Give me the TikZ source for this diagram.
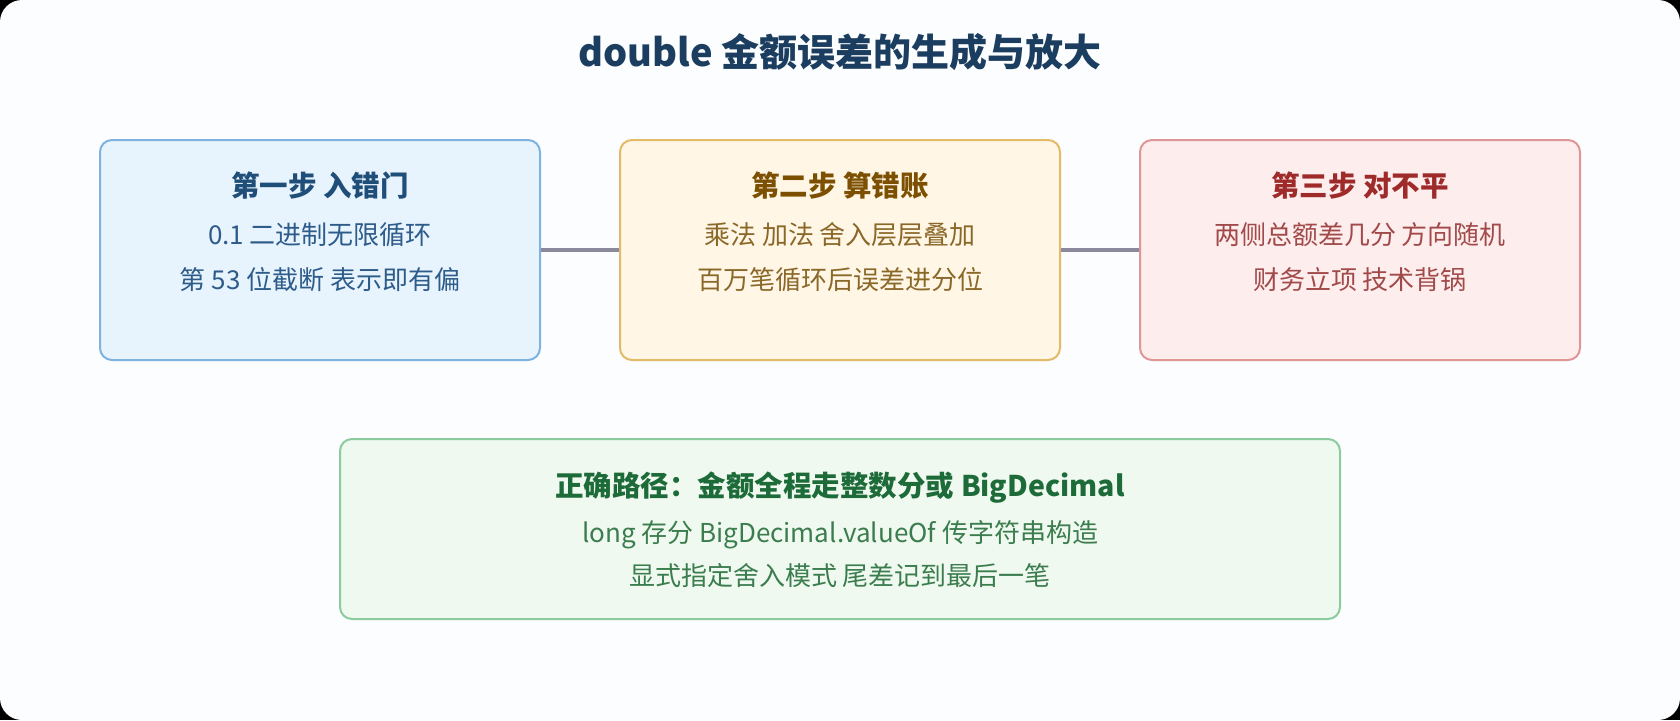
\documentclass[tikz,border=0pt]{standalone}
\usepackage{fontspec}
\setmainfont{Noto Sans CJK SC}
\definecolor{bgc}{HTML}{FCFDFE}
\definecolor{mainc}{HTML}{1B3D5F}
\definecolor{linkc}{HTML}{8A8A9C}
\definecolor{bAfill}{HTML}{E8F4FD}
\definecolor{bAdraw}{HTML}{7FB3DF}
\definecolor{bAttl}{HTML}{1F4E79}
\definecolor{bAtxt}{HTML}{2E5C8A}
\definecolor{bBfill}{HTML}{FFF6E6}
\definecolor{bBdraw}{HTML}{E3BA68}
\definecolor{bBttl}{HTML}{7C5000}
\definecolor{bBtxt}{HTML}{8A6828}
\definecolor{bCfill}{HTML}{FDEDED}
\definecolor{bCdraw}{HTML}{E09596}
\definecolor{bCttl}{HTML}{9E2A2A}
\definecolor{bCtxt}{HTML}{A24A4A}
\definecolor{bDfill}{HTML}{EFF9EF}
\definecolor{bDdraw}{HTML}{8BCB9D}
\definecolor{bDttl}{HTML}{1E6B3A}
\definecolor{bDtxt}{HTML}{3B7D4E}
\begin{document}
\begin{tikzpicture}[x=1pt,y=-1pt,
  stepbox/.style={draw, line width=2pt, rounded corners=12pt, minimum width=440pt, minimum height=220pt, inner sep=0pt},
  ttl/.style={font=\fontsize{28.5}{34}\selectfont\bfseries, text height=0.83em, text depth=0.07em, inner sep=0pt},
  bodytxt/.style={font=\fontsize{26}{32}\selectfont, text height=0.83em, text depth=0.07em, inner sep=0pt},
  link/.style={draw=linkc, line width=3.5pt}]
\fill[black] (0,0) rectangle (1680,720);
\fill[bgc, rounded corners=22pt] (0,0) rectangle (1680,720);
\useasboundingbox (0,0) rectangle (1680,720);

\node[font=\fontsize{38}{44}\selectfont\bfseries, text=mainc, text height=0.83em, text depth=0.07em, inner sep=0pt] (title) at (840,63) {double 金额误差的生成与放大};

\node[stepbox, fill=bAfill, draw=bAdraw] (b1) at (320,250) {};
\node[stepbox, fill=bBfill, draw=bBdraw] (b2) at (840,250) {};
\node[stepbox, fill=bCfill, draw=bCdraw] (b3) at (1360,250) {};
\node[stepbox, fill=bDfill, draw=bDdraw, minimum width=1000pt, minimum height=180pt] (b4) at (840,529) {};

\draw[link] (b1.east) -- (b2.west);
\draw[link] (b2.east) -- (b3.west);

\node[ttl, text=bAttl] (t1) at (320,193) {第一步 入错门};
\node[bodytxt, text=bAtxt] (t1a) at (320,240.5) {0.1 二进制无限循环};
\node[bodytxt, text=bAtxt] (t1b) at (320,285.5) {第 53 位截断 表示即有偏};

\node[ttl, text=bBttl] (t2) at (840,193) {第二步 算错账};
\node[bodytxt, text=bBtxt] (t2a) at (840,240.5) {乘法 加法 舍入层层叠加};
\node[bodytxt, text=bBtxt] (t2b) at (840,285.5) {百万笔循环后误差进分位};

\node[ttl, text=bCttl] (t3) at (1360,193) {第三步 对不平};
\node[bodytxt, text=bCtxt] (t3a) at (1360,240.5) {两侧总额差几分 方向随机};
\node[bodytxt, text=bCtxt] (t3b) at (1360,285.5) {财务立项 技术背锅};

\node[ttl, text=bDttl] (t4) at (840,493) {正确路径：金额全程走整数分或 BigDecimal};
\node[bodytxt, text=bDtxt] (t4a) at (840,539) {long 存分 BigDecimal.valueOf 传字符串构造};
\node[bodytxt, text=bDtxt] (t4b) at (840,581.5) {显式指定舍入模式 尾差记到最后一笔};
\end{tikzpicture}
\end{document}
